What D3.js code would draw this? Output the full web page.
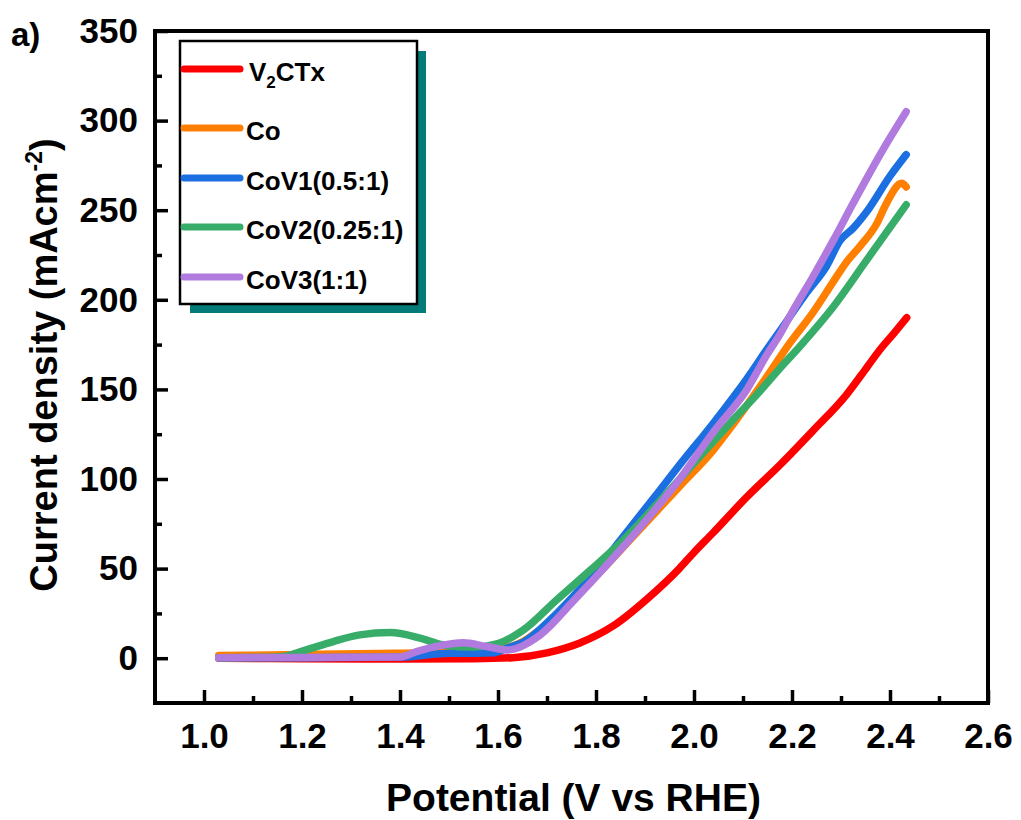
<!DOCTYPE html>
<html>
<head>
<meta charset="utf-8">
<script src="https://cdn.jsdelivr.net/npm/d3@7"></script>
<style>
  html, body { margin: 0; padding: 0; background: #fff; }
  svg { display: block; }
  text { font-family: "Liberation Sans", Arial, sans-serif; font-weight: bold; fill: #000; }
</style>
</head>
<body>
<svg id="chart" width="1021" height="820"></svg>
<script>
// ---------- DATA ----------
const seriesNames = ["V2CTx", "Co", "CoV1(0.5:1)", "CoV2(0.25:1)", "CoV3(1:1)"];
const seriesColors = ["#ff0000", "#ff7f00", "#1c6fe0", "#38ad6a", "#b07adf"];

const v2ctx = [[1.03,0],[1.2,-0.3],[1.4,-0.5],[1.55,-0.3],[1.63,0.3],[1.70,3],[1.767,8.5],[1.835,18],
  [1.904,33],[1.97,50],[2.0,59],[2.039,70],[2.108,90],[2.176,108],[2.243,127],[2.311,147],
  [2.352,162],[2.379,172],[2.41,182],[2.434,190]];

const co = [[1.03,1.5],[1.2,2],[1.4,2.8],[1.5,3.2],[1.6,5],[1.652,9.5],[1.686,16],[1.754,33],[1.822,52],
  [1.883,70],[1.971,96],[2.039,116],[2.073,128],[2.141,154],[2.196,176],[2.243,193],
  [2.284,210],[2.311,221],[2.339,230],[2.372,242],[2.393,254],[2.424,265],[2.433,263]];

const cov1 = [[1.03,0.2],[1.2,0.3],[1.4,0.6],[1.502,2.8],[1.55,2.8],[1.59,3],[1.618,5.6],[1.652,9],
  [1.72,25],[1.788,45],[1.856,68],[1.931,94],[1.971,108],[2.039,131],[2.108,156],[2.148,172],
  [2.189,188],[2.23,204],[2.271,219],[2.298,233],[2.325,240],[2.352,249],[2.4,269],[2.433,281]];

const cov2 = [[1.03,0.3],[1.1,0.4],[1.16,0.8],[1.196,3.5],[1.23,6.5],[1.264,9.3],[1.318,13],[1.38,14.3],
  [1.441,11.2],[1.488,7.4],[1.55,6.2],[1.60,8.2],[1.652,15.8],[1.72,32.6],[1.788,49],[1.856,66],
  [1.931,88],[1.971,100],[2.033,119],[2.073,131],[2.128,147],[2.176,162],[2.216,174],[2.284,196],
  [2.352,222],[2.433,253]];

const cov3 = [[1.03,0.3],[1.2,0.4],[1.4,0.7],[1.434,3.7],[1.482,7],[1.529,8.6],[1.577,6.5],[1.618,4.6],
  [1.686,13],[1.754,32],[1.822,52],[1.89,73],[1.971,100],[2.039,126],[2.108,150],[2.148,169],
  [2.176,181],[2.2,193],[2.243,213],[2.284,233],[2.325,254],[2.386,284],[2.433,305]];

const seriesData = [v2ctx, co, cov1, cov2, cov3];

const xMajorTicks = [1.0, 1.2, 1.4, 1.6, 1.8, 2.0, 2.2, 2.4, 2.6];
const xMinorTicks = [1.1, 1.3, 1.5, 1.7, 1.9, 2.1, 2.3, 2.5];
const yMajorTicks = [0, 50, 100, 150, 200, 250, 300, 350];
const yMinorTicks = [25, 75, 125, 175, 225, 275, 325];

// ---------- LAYOUT ----------
const L = 155, R = 988, T = 31, B = 703;
const svg = d3.select("#chart");
const x = d3.scaleLinear().domain([0.9, 2.6]).range([L, R]);
const y = d3.scaleLinear().domain([-25, 350]).range([B, T]);

const gx = svg.append("g").attr("transform", `translate(0,${B})`)
  .call(d3.axisBottom(x).tickValues(xMajorTicks).tickFormat(d3.format(".1f"))
    .tickSizeInner(-13).tickSizeOuter(0).tickPadding(20));
const gxm = svg.append("g").attr("transform", `translate(0,${B})`)
  .call(d3.axisBottom(x).tickValues(xMinorTicks).tickFormat("").tickSizeInner(-7).tickSizeOuter(0));
const gy = svg.append("g").attr("transform", `translate(${L},0)`)
  .call(d3.axisLeft(y).tickValues(yMajorTicks).tickFormat(d3.format("d"))
    .tickSizeInner(-13).tickSizeOuter(0).tickPadding(17));
const gym = svg.append("g").attr("transform", `translate(${L},0)`)
  .call(d3.axisLeft(y).tickValues(yMinorTicks).tickFormat("").tickSizeInner(-7).tickSizeOuter(0));

[gx, gxm, gy, gym].forEach(g => {
  g.select(".domain").remove();
  g.selectAll(".tick line").attr("stroke", "#000").attr("stroke-width", 3.5);
  g.selectAll(".tick text").style("font-size", "35px").style("font-family", '"Liberation Sans", Arial, sans-serif')
    .style("font-weight", "bold").attr("fill", "#000");
});

const line = d3.line().x(d => x(d[0])).y(d => y(d[1])).curve(d3.curveMonotoneX);
svg.append("g").selectAll("path").data(seriesData).join("path")
  .attr("d", line)
  .attr("fill", "none")
  .attr("stroke", (d, i) => seriesColors[i])
  .attr("stroke-width", 7.5)
  .attr("stroke-linecap", "round")
  .attr("stroke-linejoin", "round");

svg.append("rect").attr("x", L).attr("y", T).attr("width", R - L).attr("height", B - T)
  .attr("fill", "none").attr("stroke", "#000").attr("stroke-width", 4);

// legend
const lg = svg.append("g");
lg.append("rect").attr("x", 190).attr("y", 51).attr("width", 236).attr("height", 262).attr("fill", "#037b79");
lg.append("rect").attr("x", 180).attr("y", 41).attr("width", 237).attr("height", 263)
  .attr("fill", "#fff").attr("stroke", "#000").attr("stroke-width", 2.5);
const legendY = [69, 128, 178, 227, 277];
seriesNames.forEach((name, i) => {
  lg.append("line").attr("x1", 184).attr("x2", 240).attr("y1", legendY[i]).attr("y2", legendY[i])
    .attr("stroke", seriesColors[i]).attr("stroke-width", 7).attr("stroke-linecap", "round");
  const t = lg.append("text").attr("x", i === 0 ? 249 : 246).attr("y", legendY[i] + 12)
    .style("font-size", "26px");
  if (i === 0) {
    t.append("tspan").text("V");
    t.append("tspan").text("2").style("font-size", "17px").attr("dy", 7);
    t.append("tspan").text("CTx").attr("dy", -7);
  } else {
    t.text(name);
  }
});

svg.append("text").attr("x", (L + R) / 2 + 2).attr("y", 811).attr("text-anchor", "middle")
  .style("font-size", "39px").text("Potential (V vs RHE)");
const yt = svg.append("text").attr("transform", "translate(57,365) rotate(-90)")
  .attr("text-anchor", "middle").style("font-size", "38px");
yt.append("tspan").text("Current density (mAcm");
yt.append("tspan").text("-2").style("font-size", "23px").attr("dy", -15);
yt.append("tspan").text(")").attr("dy", 15);

svg.append("text").attr("x", 11).attr("y", 46).style("font-size", "33px").text("a)");
</script>
</body>
</html>
